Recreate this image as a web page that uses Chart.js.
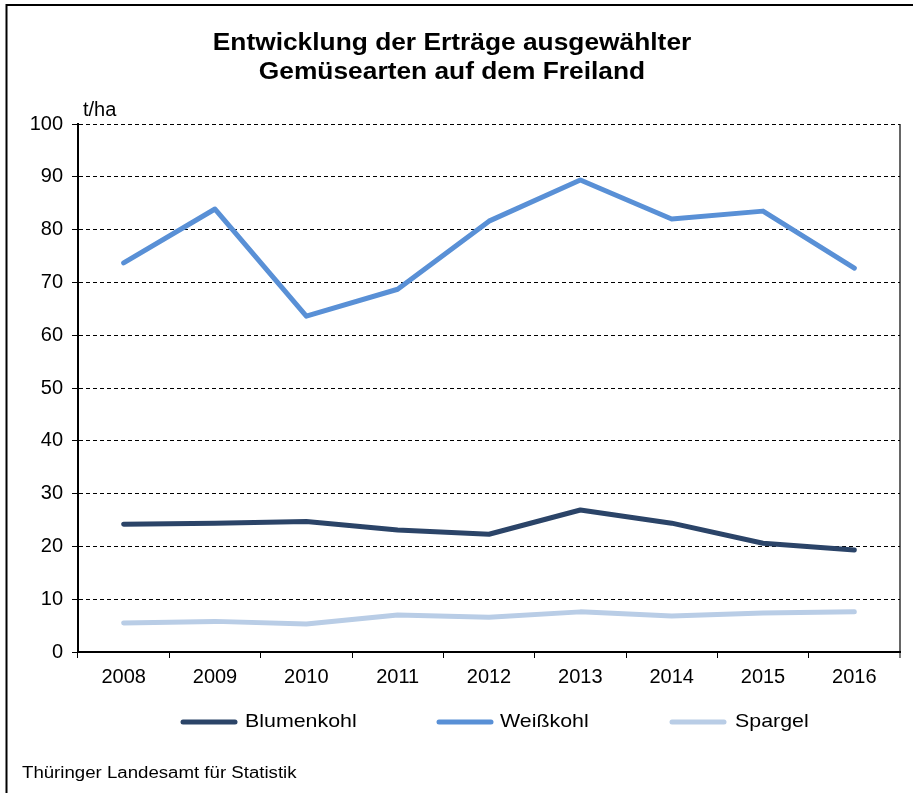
<!DOCTYPE html>
<html>
<head>
<meta charset="utf-8">
<script src="https://cdn.jsdelivr.net/npm/chart.js@4.4.0/dist/chart.umd.min.js"></script>
<style>
html,body{margin:0;padding:0;background:#fff;}
#wrap{position:relative;width:913px;height:793px;}
canvas{display:block;}
</style>
</head>
<body>
<div id="wrap"><canvas id="c" width="913" height="793"></canvas></div>
<script>
const years = ['2008','2009','2010','2011','2012','2013','2014','2015','2016'];
const blumenkohl = [24.2, 24.4, 24.7, 23.1, 22.3, 26.9, 24.4, 20.6, 19.3];
const weisskohl = [73.7, 83.9, 63.6, 68.7, 81.6, 89.4, 82.0, 83.5, 72.7];
const spargel = [5.5, 5.8, 5.3, 7.0, 6.6, 7.6, 6.8, 7.4, 7.6];
const seriesNames = ['Blumenkohl', 'Weißkohl', 'Spargel'];
const seriesColors = ['#2b4468', '#5990d6', '#b9cde6'];
const titleLines = ['Entwicklung der Erträge ausgewählter', 'Gemüsearten auf dem Freiland'];
const unitLabel = 't/ha';
const sourceText = 'Thüringer Landesamt für Statistik';

const FONT = '"Liberation Sans", Arial, sans-serif';

function stretchedText(ctx, text, x, y, sx, align) {
  ctx.save();
  ctx.translate(x, y);
  ctx.scale(sx, 1);
  ctx.textAlign = align;
  ctx.fillText(text, 0, 0);
  ctx.restore();
}

const decor = {
  id: 'decor',
  afterDraw(chart) {
    const ctx = chart.ctx;
    ctx.save();
    // outer frame (left and top)
    ctx.strokeStyle = '#000';
    ctx.lineWidth = 2;
    ctx.beginPath();
    ctx.moveTo(6.5, 793);
    ctx.lineTo(6.5, 5);
    ctx.lineTo(913, 5);
    ctx.stroke();
    // title
    ctx.fillStyle = '#000';
    ctx.textBaseline = 'middle';
    ctx.font = 'bold 23px ' + FONT;
    stretchedText(ctx, titleLines[0], 452, 44, 1.145, 'center');
    stretchedText(ctx, titleLines[1], 452, 73, 1.145, 'center');
    // unit
    ctx.font = '20px ' + FONT;
    ctx.textAlign = 'left';
    ctx.fillText(unitLabel, 83, 110);
    // legend
    const items = [[181, 245], [437, 500], [670, 735]];
    const ly = 722;
    items.forEach((it, i) => {
      ctx.strokeStyle = seriesColors[i];
      ctx.lineWidth = 5;
      ctx.lineCap = 'round';
      ctx.beginPath();
      ctx.moveTo(it[0] + 2, ly);
      ctx.lineTo(it[0] + 54, ly);
      ctx.stroke();
      ctx.fillStyle = '#000';
      ctx.font = '19px ' + FONT;
      stretchedText(ctx, seriesNames[i], it[1], ly, 1.125, 'left');
    });
    // source
    ctx.font = '16px ' + FONT;
    stretchedText(ctx, sourceText, 22, 774, 1.165, 'left');
    ctx.restore();
  }
};

const mk = (i, data) => ({
  label: seriesNames[i],
  data: data,
  borderColor: seriesColors[i],
  backgroundColor: seriesColors[i],
  borderWidth: 5,
  pointRadius: 0,
  tension: 0,
  fill: false,
  borderCapStyle: 'round',
  borderJoinStyle: 'round'
});

new Chart(document.getElementById('c'), {
  type: 'line',
  data: {
    labels: years,
    datasets: [mk(1, weisskohl), mk(0, blumenkohl), mk(2, spargel)]
  },
  options: {
    responsive: false,
    animation: false,
    devicePixelRatio: 1,
    layout: { padding: { left: 0, right: 13, top: 124, bottom: 101 } },
    plugins: { legend: { display: false }, title: { display: false }, tooltip: { enabled: false } },
    scales: {
      x: {
        offset: true,
        afterFit: (s) => { s.height = 40; },
        grid: {
          offset: true,
          drawOnChartArea: true,
          color: (c) => (c.index === undefined ? '#666' : 'rgba(0,0,0,0)'),
          lineWidth: (c) => (c.index === undefined ? 2 : 1),
          tickColor: '#000',
          tickWidth: 1,
          tickLength: 6
        },
        border: { display: true, color: '#000', width: 2 },
        ticks: { color: '#000', font: { family: FONT, size: 20 }, padding: 7, maxRotation: 0 }
      },
      y: {
        min: 0, max: 100,
        afterFit: (s) => { s.width = 78; },
        grid: { color: '#000', lineWidth: 1, tickLength: 6, tickColor: '#000', tickBorderDash: [] },
        border: { display: true, color: '#000', width: 2, dash: [4, 3] },
        ticks: { stepSize: 10, color: '#000', font: { family: FONT, size: 20 }, padding: 9 }
      }
    }
  },
  plugins: [decor]
});
</script>
</body>
</html>
